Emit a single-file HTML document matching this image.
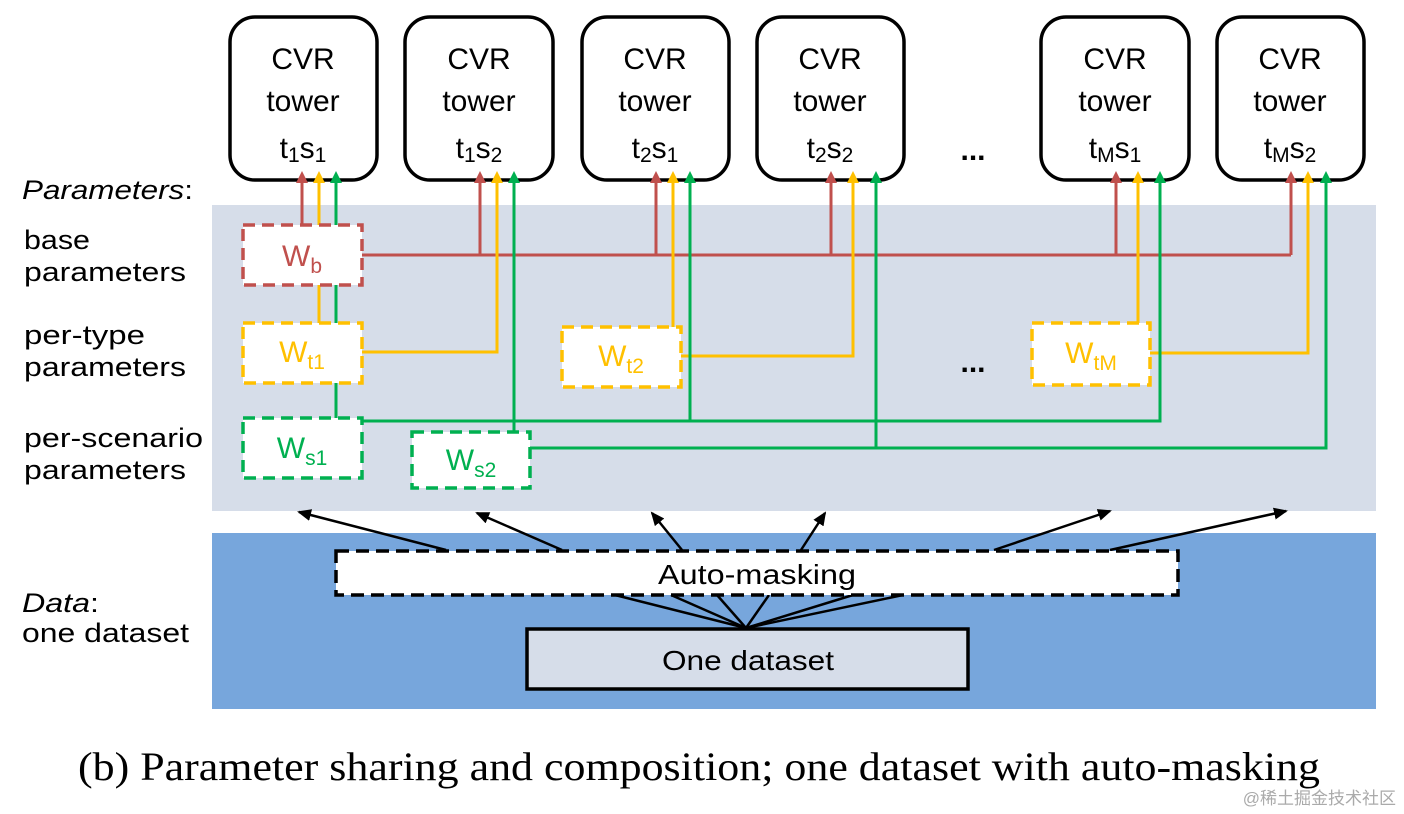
<!DOCTYPE html>
<html><head><meta charset="utf-8"><style>
html,body{margin:0;padding:0;background:#fff;}
svg{display:block;}
text{font-family:"Liberation Sans","Noto Sans CJK SC",sans-serif;}
</style></head><body>
<svg width="1404" height="814" viewBox="0 0 1404 814" xmlns="http://www.w3.org/2000/svg">
<defs>
<marker id="mr" markerWidth="12" markerHeight="12" refX="6" refY="11" markerUnits="userSpaceOnUse" viewBox="0 0 12 12"><path d="M0,12 L6,0 L12,12 Z" fill="#c0504d"/></marker>
<marker id="my" markerWidth="12" markerHeight="12" refX="6" refY="11" markerUnits="userSpaceOnUse" viewBox="0 0 12 12"><path d="M0,12 L6,0 L12,12 Z" fill="#ffc000"/></marker>
<marker id="mg" markerWidth="12" markerHeight="12" refX="6" refY="11" markerUnits="userSpaceOnUse" viewBox="0 0 12 12"><path d="M0,12 L6,0 L12,12 Z" fill="#00b050"/></marker>
<marker id="mk" markerWidth="14" markerHeight="12" refX="12" refY="6" orient="auto" markerUnits="userSpaceOnUse" viewBox="0 0 14 12"><path d="M0,0 L14,6 L0,12 Z" fill="#000"/></marker>
</defs>

<rect x="212" y="205" width="1164" height="306" fill="#d6dde9"/>
<rect x="212" y="533" width="1164" height="176" fill="#77a6dc"/>

<g fill="#fff" stroke="#000" stroke-width="3.5">
<rect x="230" y="17" width="147" height="163" rx="25"/>
<rect x="405" y="17" width="148" height="163" rx="25"/>
<rect x="582" y="17" width="147" height="163" rx="25"/>
<rect x="757" y="17" width="147" height="163" rx="25"/>
<rect x="1041" y="17" width="148" height="163" rx="25"/>
<rect x="1217" y="17" width="147" height="163" rx="25"/>
</g>
<g font-size="30" text-anchor="middle" fill="#000">
<text x="303" y="69">CVR</text><text x="303" y="111">tower</text>
<text x="479" y="69">CVR</text><text x="479" y="111">tower</text>
<text x="655" y="69">CVR</text><text x="655" y="111">tower</text>
<text x="830" y="69">CVR</text><text x="830" y="111">tower</text>
<text x="1115" y="69">CVR</text><text x="1115" y="111">tower</text>
<text x="1290" y="69">CVR</text><text x="1290" y="111">tower</text>
<text x="303" y="158">t<tspan font-size="21" dy="4">1</tspan><tspan dy="-4">s</tspan><tspan font-size="21" dy="4">1</tspan></text>
<text x="479" y="158">t<tspan font-size="21" dy="4">1</tspan><tspan dy="-4">s</tspan><tspan font-size="21" dy="4">2</tspan></text>
<text x="655" y="158">t<tspan font-size="21" dy="4">2</tspan><tspan dy="-4">s</tspan><tspan font-size="21" dy="4">1</tspan></text>
<text x="830" y="158">t<tspan font-size="21" dy="4">2</tspan><tspan dy="-4">s</tspan><tspan font-size="21" dy="4">2</tspan></text>
<text x="1115" y="158">t<tspan font-size="21" dy="4">M</tspan><tspan dy="-4">s</tspan><tspan font-size="21" dy="4">1</tspan></text>
<text x="1290" y="158">t<tspan font-size="21" dy="4">M</tspan><tspan dy="-4">s</tspan><tspan font-size="21" dy="4">2</tspan></text>
<text x="973" y="160" font-weight="bold">...</text>
<text x="973" y="372" font-weight="bold">...</text>
</g>

<g font-size="27" fill="#000">
<text x="22" y="199" font-style="italic" textLength="171" lengthAdjust="spacingAndGlyphs">Parameters<tspan font-style="normal">:</tspan></text>
<text x="24" y="249" textLength="66" lengthAdjust="spacingAndGlyphs">base</text>
<text x="24" y="281" textLength="162" lengthAdjust="spacingAndGlyphs">parameters</text>
<text x="24" y="344" textLength="121" lengthAdjust="spacingAndGlyphs">per-type</text>
<text x="24" y="376" textLength="162" lengthAdjust="spacingAndGlyphs">parameters</text>
<text x="24" y="447" textLength="179" lengthAdjust="spacingAndGlyphs">per-scenario</text>
<text x="24" y="479" textLength="162" lengthAdjust="spacingAndGlyphs">parameters</text>
<text x="22" y="612" font-style="italic" textLength="77" lengthAdjust="spacingAndGlyphs">Data<tspan font-style="normal">:</tspan></text>
<text x="22" y="642" textLength="167" lengthAdjust="spacingAndGlyphs">one dataset</text>
</g>

<g fill="none" stroke-width="3">
<g stroke="#c0504d">
<path d="M362,255 H1291"/>
<path d="M302,225 V182" marker-end="url(#mr)"/>
<path d="M480,255 V182" marker-end="url(#mr)"/>
<path d="M656,255 V182" marker-end="url(#mr)"/>
<path d="M831,255 V182" marker-end="url(#mr)"/>
<path d="M1116,255 V182" marker-end="url(#mr)"/>
<path d="M1291,255 V182" marker-end="url(#mr)"/>
</g>
<g stroke="#ffc000">
<path d="M319,323 V285"/>
<path d="M319,225 V182" marker-end="url(#my)"/>
<path d="M362,352 H497 V182" marker-end="url(#my)"/>
<path d="M673,327 V182" marker-end="url(#my)"/>
<path d="M681,356 H853 V182" marker-end="url(#my)"/>
<path d="M1138,323 V182" marker-end="url(#my)"/>
<path d="M1150,353 H1308 V182" marker-end="url(#my)"/>
</g>
<g stroke="#00b050">
<path d="M336,418 V383"/>
<path d="M336,323 V285"/>
<path d="M336,225 V182" marker-end="url(#mg)"/>
<path d="M336,421 H1160 V182" marker-end="url(#mg)"/>
<path d="M690,421 V182" marker-end="url(#mg)"/>
<path d="M514,432 V182" marker-end="url(#mg)"/>
<path d="M530,448 H1326 V182" marker-end="url(#mg)"/>
<path d="M876,448 V182" marker-end="url(#mg)"/>
</g>
</g>

<g fill="#fff" stroke-width="3.5" stroke-dasharray="12,7">
<rect x="243" y="225" width="119" height="60" stroke="#c0504d"/>
<rect x="243" y="323" width="119" height="60" stroke="#ffc000"/>
<rect x="562" y="327" width="119" height="60" stroke="#ffc000"/>
<rect x="1032" y="323" width="118" height="62" stroke="#ffc000"/>
<rect x="243" y="418" width="119" height="60" stroke="#00b050"/>
<rect x="412" y="432" width="118" height="56" stroke="#00b050"/>
</g>
<g font-size="30" text-anchor="middle">
<text x="302" y="266" fill="#c0504d">W<tspan font-size="21" dy="7">b</tspan></text>
<text x="302" y="362" fill="#ffc000">W<tspan font-size="21" dy="7">t1</tspan></text>
<text x="621" y="366" fill="#ffc000">W<tspan font-size="21" dy="7">t2</tspan></text>
<text x="1091" y="363" fill="#ffc000">W<tspan font-size="21" dy="7">tM</tspan></text>
<text x="302" y="458" fill="#00b050">W<tspan font-size="21" dy="7">s1</tspan></text>
<text x="471" y="470" fill="#00b050">W<tspan font-size="21" dy="7">s2</tspan></text>
</g>

<g stroke="#000" stroke-width="2.5" fill="none">
<line x1="446" y1="550" x2="299" y2="512" marker-end="url(#mk)"/>
<line x1="562" y1="550" x2="477" y2="513" marker-end="url(#mk)"/>
<line x1="682" y1="550" x2="652" y2="513" marker-end="url(#mk)"/>
<line x1="801" y1="550" x2="825" y2="513" marker-end="url(#mk)"/>
<line x1="994" y1="550" x2="1110" y2="511" marker-end="url(#mk)"/>
<line x1="1110" y1="550" x2="1286" y2="511" marker-end="url(#mk)"/>
<line x1="746" y1="628" x2="615" y2="595"/>
<line x1="746" y1="628" x2="671" y2="595"/>
<line x1="746" y1="628" x2="717" y2="595"/>
<line x1="746" y1="628" x2="769" y2="595"/>
<line x1="746" y1="628" x2="853" y2="595"/>
<line x1="746" y1="628" x2="903" y2="595"/>
</g>

<rect x="336" y="551" width="842" height="44" fill="#fff" stroke="#000" stroke-width="3.5" stroke-dasharray="13,7"/>
<text x="658" y="584" font-size="28" textLength="198" lengthAdjust="spacingAndGlyphs">Auto-masking</text>
<rect x="527" y="629" width="441" height="60" fill="#d6dde9" stroke="#000" stroke-width="3.5"/>
<text x="662" y="670" font-size="28" textLength="172" lengthAdjust="spacingAndGlyphs">One dataset</text>

<text x="78" y="780" font-size="40" textLength="1242" lengthAdjust="spacingAndGlyphs" style="font-family:'Liberation Serif',serif">(b)  Parameter sharing and composition; one dataset with auto-masking</text>
<text x="1396" y="804" font-size="17" text-anchor="end" fill="#aaa">@稀土掘金技术社区</text>
</svg>
</body></html>
